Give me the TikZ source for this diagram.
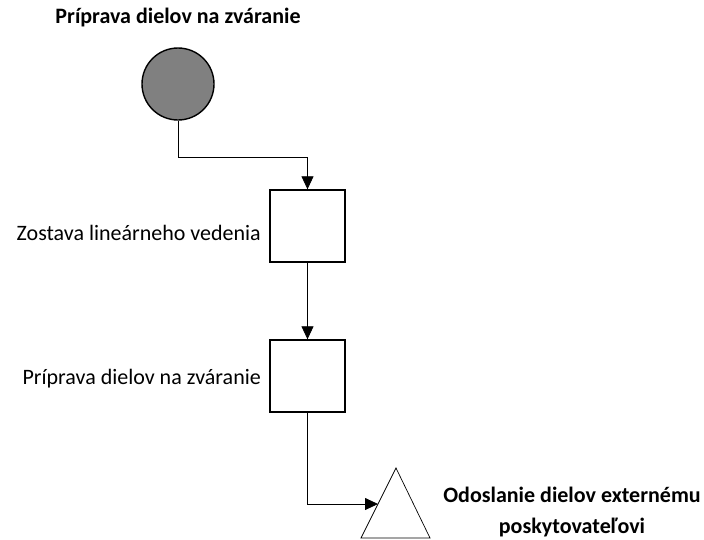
\documentclass[tikz,border=0pt]{standalone}
\usepackage{fontspec}
\setmainfont{Carlito}
\usetikzlibrary{arrows.meta}
\definecolor{startgray}{RGB}{128,128,128}
\begin{document}
\begin{tikzpicture}[x=1pt,y=-1pt,
  lbl/.style={font=\fontsize{22}{26}\selectfont, inner sep=0pt},
  blbl/.style={font=\bfseries\fontsize{22}{26}\selectfont, inner sep=0pt},
  actbox/.style={draw, line width=1.4pt, minimum width=75pt, minimum height=72pt, inner sep=0pt},
  conn/.style={line width=0.8pt, -{Triangle[length=13pt,width=12pt]}},
]
\useasboundingbox (0,0) rectangle (704,539);
\node[blbl] (title) at (178,18) {Príprava dielov na zváranie};
\node[draw, line width=1.4pt, fill=startgray, circle, minimum size=72pt, inner sep=0pt] (start) at (178,84) {};
\node[actbox] (b1) at (307.5,226) {};
\node[lbl, anchor=east] (l1) at (261,233) {Zostava lineárneho vedenia};
\node[actbox] (b2) at (307.5,376) {};
\node[lbl, anchor=east] (l2) at (261,379) {Príprava dielov na zváranie};
\draw[line width=0.7pt] (396,468) coordinate (tapex) -- (430,538) -- (361,538) -- cycle;
\coordinate (tri) at (378,504);
\node[blbl] (l3a) at (572,495) {Odoslanie dielov externému};
\node[blbl] (l3b) at (572,527) {poskytovateľovi};
\draw[conn] (start.south) |- (307.5,157) -- (b1.north);
\draw[conn] (b1.south) -- (b2.north);
\draw[conn] (b2.south) |- (tri);
\end{tikzpicture}
\end{document}
